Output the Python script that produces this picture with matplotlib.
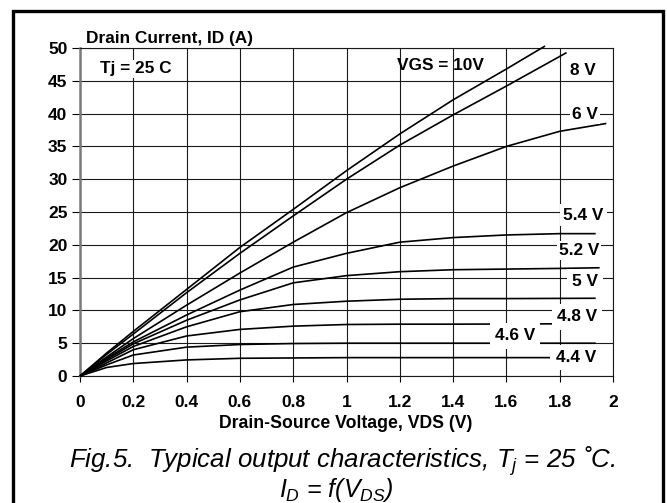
import matplotlib
matplotlib.use("Agg")
import matplotlib.pyplot as plt
from matplotlib.lines import Line2D

plt.rcParams['font.family'] = ['Liberation Sans', 'DejaVu Sans']
plt.rcParams['mathtext.fontset'] = 'custom'
plt.rcParams['mathtext.it'] = 'Liberation Sans:italic'
plt.rcParams['mathtext.rm'] = 'Liberation Sans:italic'

# ---- data ----
vgs_labels = ["10V", "8 V", "6 V", "5.4 V", "5.2 V", "5 V", "4.8 V", "4.6 V", "4.4 V"]

x_10 = [0, 0.1, 0.2, 0.4, 0.6, 0.8, 1.0, 1.2, 1.4, 1.6, 1.745]
y_10 = [0, 3.5, 6.8, 13.2, 19.6, 25.4, 31.3, 36.9, 42.1, 46.8, 50.3]

x_8 = [0, 0.1, 0.2, 0.4, 0.6, 0.8, 1.0, 1.2, 1.4, 1.6, 1.826]
y_8 = [0, 3.3, 6.4, 12.7, 18.7, 24.4, 30.0, 35.2, 39.8, 44.2, 49.3]

x_6 = [0, 0.1, 0.2, 0.4, 0.6, 0.8, 1.0, 1.2, 1.4, 1.6, 1.8, 1.975]
y_6 = [0, 2.9, 5.7, 10.8, 15.7, 20.4, 24.9, 28.7, 32.0, 35.0, 37.3, 38.5]

x_54 = [0, 0.1, 0.2, 0.4, 0.6, 0.8, 1.0, 1.2, 1.4, 1.6, 1.8, 1.935]
y_54 = [0, 2.7, 5.2, 9.3, 13.1, 16.6, 18.7, 20.4, 21.1, 21.5, 21.7, 21.7]

x_52 = [0, 0.1, 0.2, 0.4, 0.6, 0.8, 1.0, 1.2, 1.4, 1.6, 1.8, 1.95]
y_52 = [0, 2.5, 4.9, 8.5, 11.6, 14.2, 15.3, 15.9, 16.2, 16.3, 16.4, 16.5]

x_5 = [0, 0.1, 0.2, 0.4, 0.6, 0.8, 1.0, 1.2, 1.4, 1.6, 1.935]
y_5 = [0, 2.3, 4.5, 7.5, 9.8, 10.9, 11.4, 11.7, 11.8, 11.8, 11.85]

x_48 = [0, 0.1, 0.2, 0.4, 0.6, 0.8, 1.0, 1.2, 1.4, 1.76, 1.9]
y_48 = [0, 2.0, 4.0, 6.1, 7.1, 7.6, 7.85, 7.9, 7.9, 7.95, 7.95]

x_46 = [0, 0.1, 0.2, 0.4, 0.6, 0.8, 1.0, 1.2, 1.4, 1.6, 1.935]
y_46 = [0, 1.7, 3.2, 4.4, 4.8, 4.95, 5.0, 5.0, 5.0, 5.0, 5.0]

x_44 = [0, 0.1, 0.2, 0.4, 0.6, 0.8, 1.0, 1.2, 1.4, 1.754, 1.9]
y_44 = [0, 1.3, 1.9, 2.45, 2.7, 2.75, 2.8, 2.8, 2.8, 2.8, 2.8]

series_x = [x_10, x_8, x_6, x_54, x_52, x_5, x_48, x_46, x_44]
series_y = [y_10, y_8, y_6, y_54, y_52, y_5, y_48, y_46, y_44]

x_ticks = [0, 0.2, 0.4, 0.6, 0.8, 1, 1.2, 1.4, 1.6, 1.8, 2]
x_ticklabels = ["0", "0.2", "0.4", "0.6", "0.8", "1", "1.2", "1.4", "1.6", "1.8", "2"]
y_ticks = [0, 5, 10, 15, 20, 25, 30, 35, 40, 45, 50]

# label anchor positions (data coords) for the curve annotations
lab_x = [1.352, 1.888, 1.895, 1.89, 1.873, 1.895, 1.865, 1.633, 1.86]
lab_y = [47.4, 46.6, 39.9, 24.5, 19.1, 14.4, 9.0, 6.1, 2.8]

W, H = 667, 503
fig = plt.figure(figsize=(W / 100, H / 100), dpi=100)
fig.patch.set_facecolor('white')

ax = fig.add_axes([80 / W, 1 - 376 / H, (613 - 80) / W, (376 - 48) / H])
ax.set_xlim(0, 2)
ax.set_ylim(0, 50)

for xs, ys in zip(series_x, series_y):
    ax.plot(xs, ys, color='black', lw=1.2, solid_capstyle='butt', zorder=3,
            clip_on=False)

ax.set_xticks(x_ticks)
ax.set_xticklabels(x_ticklabels)
ax.set_yticks(y_ticks)
ax.grid(True, color='#1a1a1a', lw=0.8, zorder=1)
ax.set_axisbelow(True)

for side in ['top', 'right', 'bottom']:
    ax.spines[side].set_color('#1a1a1a')
    ax.spines[side].set_linewidth(0.8)
ax.spines['left'].set_color('#7a7a7a')
ax.spines['left'].set_linewidth(1.8)

ax.tick_params(axis='y', direction='out', length=6, width=0.8, pad=3,
               labelsize=12.5, colors='black')
ax.tick_params(axis='x', direction='out', length=4.5, width=0.8, pad=9,
               labelsize=12.5, colors='black')
for lab in ax.get_xticklabels() + ax.get_yticklabels():
    lab.set_fontweight('bold')

# curve annotations
pads = [None, None, 0.12, 0.2, 0.12, 0.3, 0.3, 0.3, 0.3]
for i, (t, lx, ly) in enumerate(zip(vgs_labels, lab_x, lab_y)):
    txt = ("VGS = " + t) if i == 0 else t
    kw = {}
    if pads[i] is not None:
        kw['bbox'] = dict(boxstyle='square,pad=%g' % pads[i], fc='white', ec='none')
    ax.text(lx, ly, txt, fontsize=12.4, fontweight='bold', ha='center',
            va='center', zorder=4, **kw)

ax.text(0.075, 46.8, "Tj = 25 C", fontsize=12.4, fontweight='bold',
        ha='left', va='center', zorder=4,
        bbox=dict(boxstyle='square,pad=0.1', fc='white', ec='none'))

fig.text(86 / W, 1 - 39 / H, "Drain Current, ID (A)", fontsize=12.4,
         fontweight='bold', ha='left', va='center')
fig.text(346 / W, 1 - 423 / H, "Drain-Source Voltage, VDS (V)", fontsize=12.7,
         fontweight='bold', ha='center', va='center')

fig.text(342 / W, 1 - 461 / H,
         "Fig.5.  Typical output characteristics, $T_j$ = 25 \u02daC.",
         fontsize=18.6, fontstyle='italic', ha='center', va='center')
fig.text(336 / W, 1 - 490 / H, "$I_D$ = f($V_{DS}$)",
         fontsize=18.0, fontstyle='italic', ha='center', va='center')

# outer frame (left, top, right; open at the bottom)
fx0, fx1, fy0 = 12.5 / W, 662.5 / W, 1 - 10.5 / H
fig.add_artist(Line2D([fx0, fx0, fx1, fx1], [0, fy0, fy0, 0],
                      transform=fig.transFigure, color='black', lw=2.4,
                      solid_joinstyle='miter'))

fig.savefig('out.png', dpi=100, facecolor='white')
